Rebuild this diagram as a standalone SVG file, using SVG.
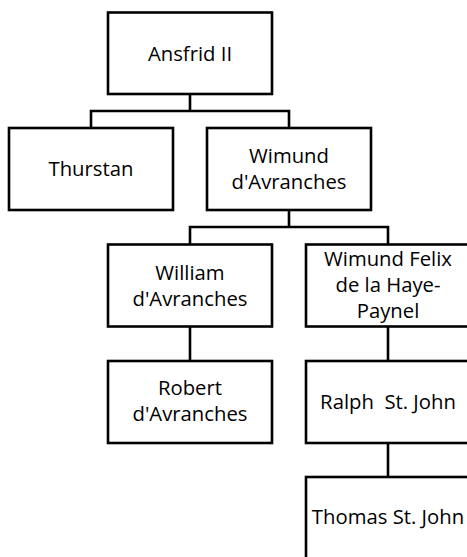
<svg xmlns="http://www.w3.org/2000/svg" width="467" height="557" viewBox="0 0 467 557">
<style>
.box{fill:#ffffff;stroke:#000000;stroke-width:2.6}
.lbl{font-family:"Open Sans","Noto Sans",sans-serif;font-size:20.3px;fill:#000000;text-anchor:middle;white-space:pre}
.conn{fill:none;stroke:#000000;stroke-width:2.6}
</style>
<rect width="467" height="557" fill="#ffffff"/>
<g id="connectors">
<path class="conn" d="M190,94 V111 M91,128 V111 H289 V128"/>
<path class="conn" d="M289,210 V227 M190,244.5 V227 H388 V244.5"/>
<path class="conn" d="M190,326.5 V361"/>
<path class="conn" d="M388,326.5 V361 M388,443 V477"/>
</g>
<g id="ansfrid">
<rect class="box" x="108" y="12.5" width="164" height="81.5"/>
<text class="lbl" x="190" y="61">Ansfrid II</text>
</g>
<g id="thurstan">
<rect class="box" x="9" y="128" width="164" height="82"/>
<text class="lbl" x="91" y="176">Thurstan</text>
</g>
<g id="wimund">
<rect class="box" x="207" y="128" width="164" height="82"/>
<text class="lbl" x="289" y="163">Wimund</text>
<text class="lbl" x="289" y="189">d'Avranches</text>
</g>
<g id="william">
<rect class="box" x="108" y="244.5" width="164" height="82"/>
<text class="lbl" x="190" y="280">William</text>
<text class="lbl" x="190" y="306">d'Avranches</text>
</g>
<g id="felix">
<rect class="box" x="306" y="244.5" width="164" height="82"/>
<text class="lbl" x="388" y="266">Wimund Felix</text>
<text class="lbl" x="388" y="292">de la Haye-</text>
<text class="lbl" x="388" y="318">Paynel</text>
</g>
<g id="robert">
<rect class="box" x="108" y="361" width="164" height="82"/>
<text class="lbl" x="190" y="395">Robert</text>
<text class="lbl" x="190" y="421">d'Avranches</text>
</g>
<g id="ralph">
<rect class="box" x="306" y="361" width="164" height="82"/>
<text class="lbl" x="388" y="409" xml:space="preserve">Ralph  St. John</text>
</g>
<g id="thomas">
<rect class="box" x="306" y="477" width="164" height="82"/>
<text class="lbl" x="388" y="524">Thomas St. John</text>
</g>
</svg>
